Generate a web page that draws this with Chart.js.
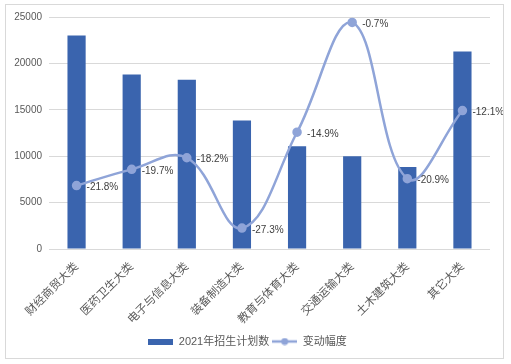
<!DOCTYPE html>
<html>
<head>
<meta charset="utf-8">
<script src="https://cdn.jsdelivr.net/npm/chart.js@4.4.1/dist/chart.umd.min.js"></script>
<style>
  html,body{margin:0;padding:0;background:#fff;}
  #wrap{position:relative;width:511px;height:364px;}
  #frame{position:absolute;left:5px;top:4px;width:497px;height:353px;border:1px solid #d9d9d9;pointer-events:none;}
</style>
</head>
<body>
<div id="wrap">
  <canvas id="ch" width="511" height="364"></canvas>
  <div id="frame"></div>
</div>
<script>
// ===== 数据 =====
const categories=['财经商贸大类','医药卫生大类','电子与信息大类','装备制造大类','教育与体育大类','交通运输大类','土木建筑大类','其它大类'];
const enrollPlan=[23000,18800,18250,13850,11080,10000,8830,21280];
const changePct=[-21.8,-19.7,-18.2,-27.3,-14.9,-0.7,-20.9,-12.1];
const yTicks=[0,5000,10000,15000,20000,25000];

const BAR='#3A64AE', LINE='#8FA4D8', TXT='#595959';
const FONT="'Liberation Sans','Noto Sans CJK SC',sans-serif";

// ===== 图例图标 =====
function iconBar(){ const c=document.createElement('canvas'); c.width=25; c.height=6; const x=c.getContext('2d'); x.fillStyle=BAR; x.fillRect(0,0,25,6); return c; }
function iconLine(){ const c=document.createElement('canvas'); c.width=25; c.height=8; const x=c.getContext('2d');
  x.strokeStyle=LINE; x.lineWidth=2.5; x.beginPath(); x.moveTo(0,4); x.lineTo(25,4); x.stroke();
  x.fillStyle=LINE; x.beginPath(); x.arc(12.5,4,3.5,0,Math.PI*2); x.fill(); return c; }

// ===== 数据标签 =====
const pctLabels={ id:'pctLabels', afterDatasetsDraw(chart){
  const meta=chart.getDatasetMeta(1), ctx=chart.ctx;
  ctx.save(); ctx.font="10px "+FONT; ctx.fillStyle='#404040'; ctx.textAlign='left'; ctx.textBaseline='middle';
  meta.data.forEach((p,i)=>{ ctx.fillText(changePct[i].toFixed(1)+'%',p.x+10,p.y+2); });
  ctx.restore();
}};

new Chart(document.getElementById('ch'),{
  data:{ labels:categories, datasets:[
    {type:'bar',label:'2021年招生计划数',data:enrollPlan,backgroundColor:BAR,barPercentage:0.33,categoryPercentage:1,yAxisID:'y',order:2},
    {type:'line',label:'变动幅度',data:changePct,borderColor:LINE,backgroundColor:LINE,borderWidth:2.5,pointRadius:3.5,pointHoverRadius:3.5,tension:0.4,yAxisID:'y1',order:1}
  ]},
  options:{ responsive:false, animation:false, events:[],
    layout:{padding:{left:5,right:21,top:17,bottom:7}},
    plugins:{ tooltip:{enabled:false},
      legend:{ position:'bottom', labels:{ usePointStyle:true, pointStyleWidth:25, padding:3, color:TXT, font:{family:FONT,size:11},
        generateLabels:(chart)=>chart.data.datasets.map((d,i)=>({text:d.label,datasetIndex:i,pointStyle:i===0?iconBar():iconLine(),fontColor:TXT,lineWidth:0,strokeStyle:'transparent',fillStyle:'transparent'})) } } },
    scales:{
      x:{ grid:{display:false}, border:{display:false},
        ticks:{ color:TXT, font:{family:FONT,size:11.5}, minRotation:45, maxRotation:45, padding:3 },
        afterFit:s=>{ s.height=84; } },
      y:{ min:0, max:25000, afterBuildTicks:s=>{ s.ticks=yTicks.map(v=>({value:v})); },
        grid:{color:'#d9d9d9',drawTicks:false}, border:{display:false},
        ticks:{ color:TXT, font:{family:FONT,size:10}, padding:7, callback:v=>String(v) },
        afterFit:s=>{ s.width=44; } },
      y1:{ display:false, min:-30, max:0 }
    }
  },
  plugins:[pctLabels]
});
</script>
</body>
</html>
